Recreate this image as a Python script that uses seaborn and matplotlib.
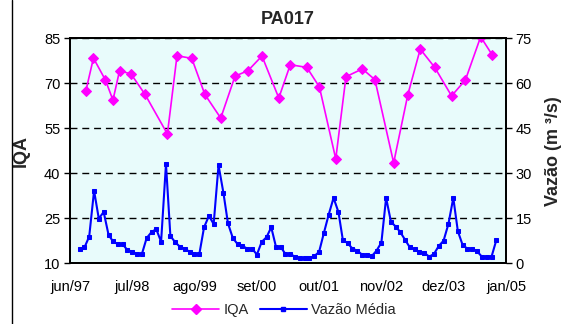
import matplotlib
matplotlib.use("Agg")
import matplotlib.pyplot as plt
from matplotlib.lines import Line2D
import numpy as np
import pandas as pd
import seaborn as sns

# IQA sampling campaigns (date, index value)
iqa_dates = [
    "1997-09-10", "1997-10-28", "1998-01-12", "1998-03-01", "1998-04-12",
    "1998-06-24", "1998-09-21", "1999-02-10", "1999-04-12", "1999-07-15",
    "1999-10-06", "2000-01-15", "2000-04-15", "2000-07-06", "2000-10-03",
    "2001-01-18", "2001-04-01", "2001-07-15", "2001-10-03", "2002-01-15",
    "2002-03-21", "2002-07-03", "2002-09-21", "2003-01-18", "2003-04-18",
    "2003-07-06", "2003-10-06", "2004-01-21", "2004-04-18", "2004-07-24",
    "2004-10-06",
]
iqa_values = [
    67.5, 78.4, 71.1, 64.4, 74.2, 73.1, 66.3, 53.1, 79.2, 78.3,
    66.3, 58.4, 72.4, 74.2, 79.1, 65.1, 76.2, 75.3, 68.8, 44.8,
    72.2, 74.8, 71.2, 43.5, 66.2, 81.4, 75.3, 65.8, 71.1, 85.5,
    79.4,
]

# Monthly mean discharge (m3/s), aug/97 .. nov/04
vazao_start = "1997-08-01"
vazao_values = [
    4.9, 5.3, 8.9, 24.2, 14.9, 17.1, 9.5, 7.3, 6.4, 6.4,
    4.4, 3.9, 3.1, 3.1, 8.4, 10.4, 11.4, 7.2, 33.1, 9.1,
    7.0, 5.5, 4.9, 3.8, 3.1, 3.1, 12.0, 15.8, 13.1, 32.7,
    23.5, 13.3, 8.4, 6.4, 5.8, 4.9, 4.9, 2.9, 7.1, 8.7,
    12.0, 5.3, 5.3, 3.1, 3.1, 2.2, 1.8, 1.8, 1.8, 2.4,
    3.8, 10.2, 16.2, 21.8, 17.1, 7.8, 6.7, 4.9, 4.2, 2.9,
    2.9, 2.4, 4.2, 6.9, 21.8, 13.8, 12.2, 10.4, 7.8, 5.3,
    4.7, 3.8, 3.5, 2.2, 3.1, 5.8, 7.5, 13.1, 21.8, 10.7,
    6.0, 4.9, 4.9, 4.0, 2.2, 2.2, 2.2, 7.8,
]

tick_dates = ["1997-06-01", "1998-07-01", "1999-08-01", "2000-09-01",
              "2001-10-01", "2002-11-01", "2003-12-01", "2005-01-01"]
tick_labels = ["jun/97", "jul/98", "ago/99", "set/00",
               "out/01", "nov/02", "dez/03", "jan/05"]

left_ticks = [10, 25, 40, 55, 70, 85]
right_ticks = [0, 15, 30, 45, 60, 75]

iqa_df = pd.DataFrame({"data": pd.to_datetime(iqa_dates), "IQA": iqa_values})
vazao_df = pd.DataFrame({
    "data": pd.date_range(vazao_start, periods=len(vazao_values), freq="MS"),
    "Vazao": vazao_values,
})

sns.set_theme(style="white")
plt.rcParams["font.family"] = ["Liberation Sans", "DejaVu Sans"]

PINK = "#ff00ff"
BLUE = "#0000ff"

fig = plt.figure(figsize=(5.68, 3.24), dpi=100)
fig.patch.set_facecolor("white")
fig.subplots_adjust(left=70 / 568, right=506 / 568, bottom=1 - 263.3 / 324, top=1 - 38.3 / 324)
ax = fig.add_subplot(111)
ax.set_facecolor("#e8fbfb")

sns.lineplot(data=iqa_df, x="data", y="IQA", ax=ax, color=PINK, lw=1.2,
             marker="D", markersize=5.5, markeredgecolor=PINK, legend=False)

ax2 = ax.twinx()
sns.lineplot(data=vazao_df, x="data", y="Vazao", ax=ax2, color=BLUE, lw=1.5,
             marker="s", markersize=3.2, markeredgecolor=BLUE, legend=False)

xt = pd.to_datetime(tick_dates)
ax.set_xlim(xt[0], xt[-1])
ax.set_xticks(xt)
ax.set_xticklabels(tick_labels)

ax.set_ylim(10, 85)
ax.set_yticks(left_ticks)
ax2.set_ylim(0, 75)
ax2.set_yticks(right_ticks)

ax.yaxis.grid(True, color="black", linestyle=(0, (5, 3.5)), lw=1.0)
ax.xaxis.grid(False)
ax.set_axisbelow(True)

for a in (ax, ax2):
    for s in a.spines.values():
        s.set_color("black")
        s.set_linewidth(1.3)
    a.tick_params(direction="out", length=4, width=1, color="black",
                  labelsize=10.5, labelcolor="black", pad=3)
ax.tick_params(axis="x", pad=8)
ax.tick_params(axis="y", left=True)
ax2.tick_params(axis="y", right=True)

ax.set_xlabel("")
ax.set_ylabel("IQA", fontsize=13, fontweight="bold", labelpad=10)
ax2.set_ylabel("Vazão (m ³/s)", fontsize=13, fontweight="bold", labelpad=9)
ax.set_title("PA017", fontsize=13, fontweight="bold", pad=10)

handles = [
    Line2D([], [], color=PINK, lw=1.2, marker="D", markersize=5.5),
    Line2D([], [], color=BLUE, lw=1.5, marker="s", markersize=3.2),
]
fig.legend(handles, ["IQA", "Vazão Média"], loc="center", ncol=2,
           bbox_to_anchor=(0.5, 1 - 310 / 324), frameon=False, fontsize=10.5,
           handlelength=3.2, handletextpad=0.3, columnspacing=0.8)

# chart-area frame edge
fig.add_artist(Line2D([12 / 568, 12 / 568], [0, 1], color="black", lw=1.0,
                      transform=fig.transFigure))

fig.savefig("out.png", dpi=100)
